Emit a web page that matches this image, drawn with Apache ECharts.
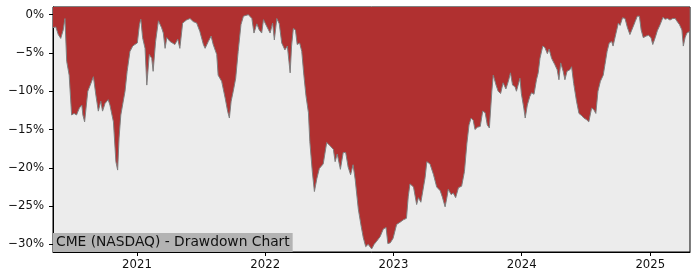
<!DOCTYPE html>
<html>
<head>
<meta charset="utf-8">
<script src="https://cdn.jsdelivr.net/npm/echarts@6/dist/echarts.min.js"></script>
<style>html,body{margin:0;padding:0;background:#fff}#c{width:700px;height:280px}</style>
</head>
<body>
<div id="c"></div>
<script>
const titleText = 'CME (NASDAQ) - Drawdown Chart';
const dates = [
'2020-05-07','2020-05-15','2020-05-22','2020-05-29','2020-06-05','2020-06-10','2020-06-15','2020-06-22','2020-06-29','2020-07-06',
'2020-07-13','2020-07-21','2020-07-28','2020-07-31','2020-08-05','2020-08-14','2020-08-21','2020-08-30','2020-09-06','2020-09-13',
'2020-09-20','2020-09-25','2020-10-02','2020-10-11','2020-10-16','2020-10-26','2020-11-02','2020-11-07','2020-11-11','2020-11-16',
'2020-11-21','2020-11-28','2020-12-04','2020-12-12','2020-12-20','2020-12-26','2021-01-02','2021-01-08','2021-01-12','2021-01-17',
'2021-01-24','2021-01-29','2021-02-05','2021-02-12','2021-02-16','2021-02-23','2021-03-03','2021-03-07','2021-03-12','2021-03-17',
'2021-03-22','2021-03-27','2021-04-05','2021-04-19','2021-04-27','2021-05-03','2021-05-11','2021-05-22','2021-06-01','2021-06-10',
'2021-06-20','2021-06-29','2021-07-09','2021-07-14','2021-07-23','2021-07-31','2021-08-06','2021-08-16','2021-08-20','2021-08-30',
'2021-09-09','2021-09-16','2021-09-21','2021-09-26','2021-10-02','2021-10-09','2021-10-16','2021-10-24','2021-10-31','2021-11-04',
'2021-11-14','2021-11-24','2021-11-30','2021-12-08','2021-12-15','2021-12-22','2021-12-27','2022-01-05','2022-01-15','2022-01-22',
'2022-01-27','2022-02-03','2022-02-10','2022-02-17','2022-02-26','2022-03-05','2022-03-13','2022-03-17','2022-03-22','2022-03-28',
'2022-04-02','2022-04-09','2022-04-15','2022-04-21','2022-04-27','2022-05-04','2022-05-08','2022-05-15','2022-05-21','2022-05-28',
'2022-06-04','2022-06-15','2022-06-25','2022-07-04','2022-07-14','2022-07-19','2022-07-25','2022-08-03','2022-08-11','2022-08-18',
'2022-08-25','2022-09-01','2022-09-08','2022-09-14','2022-09-23','2022-10-01','2022-10-07','2022-10-14','2022-10-21','2022-10-31',
'2022-11-07','2022-11-14','2022-11-24','2022-12-03','2022-12-11','2022-12-16','2022-12-23','2022-12-31','2023-01-10','2023-01-20',
'2023-01-29','2023-02-07','2023-02-12','2023-02-17','2023-02-27','2023-03-08','2023-03-13','2023-03-20','2023-04-01','2023-04-06',
'2023-04-15','2023-04-25','2023-05-04','2023-05-14','2023-05-20','2023-05-28','2023-06-02','2023-06-06','2023-06-14','2023-06-20',
'2023-06-27','2023-07-05','2023-07-14','2023-07-22','2023-07-29','2023-08-04','2023-08-10','2023-08-16','2023-08-21','2023-08-28',
'2023-09-05','2023-09-12','2023-09-19','2023-09-25','2023-10-01','2023-10-08','2023-10-12','2023-10-20','2023-10-26','2023-11-02',
'2023-11-09','2023-11-17','2023-11-24','2023-11-30','2023-12-06','2023-12-13','2023-12-17','2023-12-27','2023-12-31','2024-01-07',
'2024-01-11','2024-01-17','2024-01-24','2024-01-29','2024-02-05','2024-02-12','2024-02-17','2024-02-22','2024-03-01','2024-03-07',
'2024-03-14','2024-03-19','2024-03-26','2024-04-04','2024-04-11','2024-04-16','2024-04-21','2024-04-28','2024-05-03','2024-05-09',
'2024-05-17','2024-05-22','2024-05-28','2024-06-05','2024-06-12','2024-06-20','2024-06-26','2024-07-03','2024-07-10','2024-07-18',
'2024-07-24','2024-07-30','2024-08-05','2024-08-12','2024-08-20','2024-08-25','2024-08-31','2024-09-06','2024-09-13','2024-09-17',
'2024-09-25','2024-10-02','2024-10-07','2024-10-14','2024-10-21','2024-10-28','2024-11-04','2024-11-12','2024-11-19','2024-11-25',
'2024-12-01','2024-12-06','2024-12-12','2024-12-20','2024-12-27','2025-01-03','2025-01-08','2025-01-15','2025-01-21','2025-01-29',
'2025-02-06','2025-02-12','2025-02-19','2025-02-26','2025-03-06','2025-03-13','2025-03-17','2025-03-25','2025-04-01','2025-04-05',
'2025-04-10','2025-04-15','2025-04-23'
];
const drawdown = [
-1.7,-1.6,-2.6,-3.1,-2.0,-0.5,-6.1,-7.9,-13.1,-12.9,
-13.1,-12.2,-11.8,-13.1,-14.0,-10.0,-9.2,-8.1,-10.5,-12.6,
-11.3,-12.6,-11.6,-11.1,-11.8,-14.0,-19.2,-20.3,-16.1,-13.1,
-11.8,-10.0,-7.4,-4.8,-4.1,-3.9,-3.7,-1.3,-0.6,-3.0,
-4.4,-9.2,-5.2,-5.7,-7.4,-3.5,-0.8,-0.8,-1.7,-2.4,
-4.4,-3.0,-3.5,-3.9,-3.2,-4.4,-1.1,-0.7,-0.5,-0.9,
-1.1,-2.2,-3.9,-4.4,-3.5,-2.8,-3.9,-5.2,-7.9,-8.7,
-10.9,-12.6,-13.5,-11.3,-10.0,-8.3,-4.8,-1.3,-0.2,-0.1,
0.0,-0.5,-2.4,-1.2,-2.0,-2.4,-0.65,-1.5,-2.4,-1.1,
-3.3,-0.5,-1.2,-3.7,-4.6,-4.1,-7.6,-4.1,-1.8,-2.0,
-3.9,-3.7,-4.8,-7.9,-10.6,-12.8,-16.6,-20.5,-23.1,-21.4,
-20.1,-19.5,-16.7,-17.1,-17.6,-19.2,-18.2,-20.2,-18.0,-18.0,
-19.9,-20.9,-19.6,-21.5,-25.4,-27.6,-29.1,-30.3,-30.0,-30.6,
-30.0,-29.6,-29.0,-28.0,-27.8,-29.9,-29.8,-29.2,-27.4,-27.1,
-26.8,-26.6,-23.8,-22.1,-22.5,-24.8,-23.9,-24.5,-21.3,-19.2,
-19.5,-20.9,-22.5,-23.0,-23.8,-25.1,-23.9,-22.8,-23.5,-23.3,
-23.9,-22.6,-22.4,-20.5,-16.8,-14.4,-13.5,-13.8,-15.0,-14.7,
-14.6,-12.6,-12.8,-14.4,-14.8,-10.0,-7.9,-9.2,-10.0,-10.3,
-8.9,-9.7,-8.7,-7.6,-9.2,-9.4,-10.0,-8.3,-10.3,-12.2,
-13.5,-11.8,-10.7,-10.2,-10.4,-8.5,-7.6,-5.7,-4.1,-4.3,
-5.1,-4.5,-5.7,-6.5,-7.2,-8.5,-6.3,-7.4,-8.5,-7.4,
-7.2,-6.8,-9.0,-11.3,-12.9,-13.2,-13.5,-13.7,-14.0,-12.2,
-12.4,-12.9,-10.0,-8.7,-7.9,-6.5,-4.8,-3.7,-3.5,-4.1,
-2.5,-1.1,-1.4,-0.4,-0.5,-1.7,-2.6,-1.7,-0.9,-0.2,
-0.2,-2.0,-3.0,-2.8,-2.7,-3.0,-3.9,-3.0,-2.1,-1.3,
-0.35,-0.6,-0.5,-0.7,-0.5,-0.5,-0.8,-1.3,-2.0,-4.1,
-3.0,-2.4,-2.2
];
const yTicks = [0, -5, -10, -15, -20, -25, -30];
const xTickYears = [2021, 2022, 2023, 2024, 2025];
const xStart = '2020-05-07';
const xEnd = '2025-04-24';

const toTs = s => { const p = s.split('-').map(Number); return Date.UTC(p[0], p[1] - 1, p[2]); };
const chart = echarts.init(document.getElementById('c'), null, {renderer: 'canvas'});
const font = 'DejaVu Sans';
const xTickValues = xTickYears.map(y => Date.UTC(y, 0, 1));
const seriesData = dates.map((d, i) => [toTs(d), drawdown[i]]);
chart.setOption({
  animation: false,
  backgroundColor: '#ffffff',
  grid: {left: 53, right: 10, top: 7, bottom: 28, show: true, backgroundColor: '#ececec', borderColor: '#000', borderWidth: 1},
  title: {
    text: titleText, left: 53, top: 233, padding: [2, 3, 2, 3], backgroundColor: '#b3b3b3',
    textStyle: {fontFamily: font, fontSize: 13.8, fontWeight: 'normal', color: '#111', lineHeight: 15}
  },
  xAxis: {
    type: 'value', min: toTs(xStart), max: toTs(xEnd),
    splitLine: {show: false},
    axisLine: {show: true, onZero: false, lineStyle: {color: '#000', width: 1}},
    axisTick: {show: true, length: 4, lineStyle: {color: '#000'}, customValues: xTickValues},
    axisLabel: {
      customValues: xTickValues, fontFamily: font, fontSize: 11.7, color: '#111', margin: 7,
      formatter: v => String(new Date(v).getUTCFullYear())
    }
  },
  yAxis: {
    type: 'value', min: -31, max: 1,
    splitLine: {show: false},
    axisLine: {show: true, lineStyle: {color: '#000', width: 1}},
    axisTick: {show: true, length: 4, lineStyle: {color: '#000'}, customValues: yTicks},
    axisLabel: {
      customValues: yTicks, fontFamily: font, fontSize: 11.7, color: '#111', margin: 9,
      formatter: v => (v < 0 ? '\u2212' + Math.abs(v) : String(v)) + '%'
    }
  },
  series: [{
    type: 'line', data: seriesData, showSymbol: false, symbol: 'none',
    lineStyle: {color: '#7f7f7f', width: 1},
    areaStyle: {origin: 'end', color: '#b03030', opacity: 1},
    z: 2
  }]
});
</script>
</body>
</html>
